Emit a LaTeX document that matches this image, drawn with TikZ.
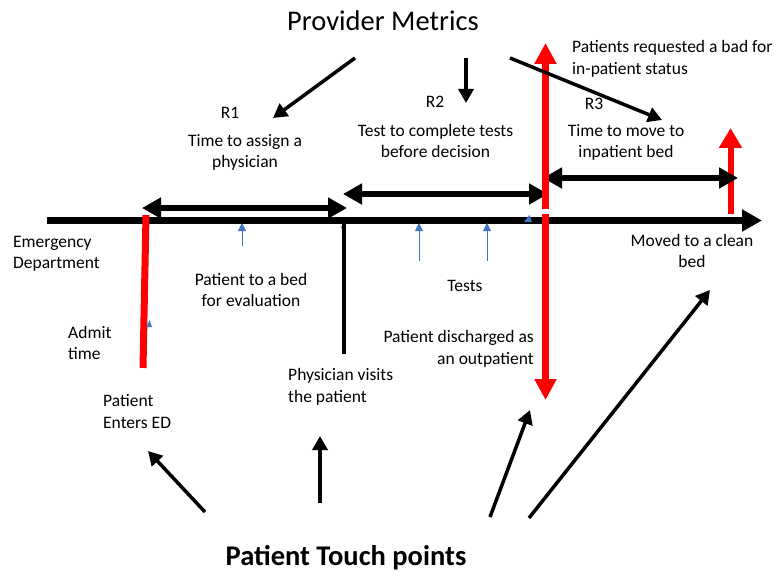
\documentclass[tikz,border=0pt]{standalone}
\usepackage{fontspec}
\setmainfont{Carlito}
\usetikzlibrary{arrows.meta}
\definecolor{tickblue}{RGB}{68,114,196}
\definecolor{mred}{RGB}{255,0,0}

\begin{document}
\begin{tikzpicture}[x=1pt,y=-1pt,
  lbl/.style={font=\fontsize{17.5}{21.5}\selectfont, align=center, inner sep=0pt},
  lbll/.style={lbl, align=left},
  lblr/.style={lbl, align=right},
  heading/.style={inner sep=0pt, anchor=base, font=\fontsize{28.5}{34}\selectfont},
  timeline/.style={line width=7pt, -{Triangle[length=20pt,width=21pt]}},
  span/.style={line width=5.5pt, {Triangle[length=19pt,width=20pt]}-{Triangle[length=19pt,width=20pt]}},
  redup/.style={mred, line width=7pt, -{Triangle[length=21pt,width=21pt]}},
  redbar/.style={mred, line width=7pt},
  blackbar/.style={line width=4.5pt},
  tick/.style={tickblue, line width=1pt, -{Triangle[length=8pt,width=8pt]}},
  pointer/.style={line width=3.5pt, -{Triangle[length=14pt,width=15pt]}}]
\useasboundingbox (0,0) rectangle (775,572);

% headings
\node[heading] (prov) at (383,31) {Provider Metrics};
\node[heading, font=\bfseries\fontsize{28.5}{34}\selectfont] (touch) at (346,565) {Patient Touch points};

% metric labels
\node[lbl] (r1) at (230,113) {R1};
\node[lbl] (r1t) at (245,152.5) {Time to assign a\\physician};
\node[lbl] (r2) at (435,102) {R2};
\node[lbl] (r2t) at (435.5,141) {Test to complete tests\\before decision};
\node[lbl] (r3) at (594,104) {R3};
\node[lbl] (r3t) at (626,142.5) {Time to move to\\inpatient bed};
\node[lbll, anchor=west] (req) at (572,59) {Patients requested a bad for\\in-patient status};

% event labels
\node[lbll, anchor=west] (ed) at (13,254) {Emergency\\Department};
\node[lbl] (bed) at (251,290) {Patient to a bed\\for evaluation};
\node[lbl] (tests) at (465,286) {Tests};
\node[lbl] (clean) at (692,251) {Moved to a clean\\bed};
\node[lbll, anchor=west] (admit) at (68,343) {Admit\\time};
\node[lblr, anchor=east] (disc) at (534,349) {Patient discharged as\\an outpatient};
\node[lbll, anchor=west] (phys) at (288,387) {Physician visits\\the patient};
\node[lbll, anchor=west] (enter) at (103,411.5) {Patient\\Enters ED};

% timeline
\coordinate (t0) at (47,220.5);
\coordinate (t1) at (762,220.5);
\draw[timeline] (t0) -- (t1);

% inpatient move marker (under the R3 span)
\coordinate (mv0) at (730.5,214); \coordinate (mv1) at (730.5,128);
\draw[redup, line width=6pt, -{Triangle[length=20pt,width=22pt]}] (mv0) -- (mv1);

% interval spans
\coordinate (s1a) at (142,208); \coordinate (s1b) at (347,208);
\coordinate (s2a) at (343,194); \coordinate (s2b) at (548,194);
\coordinate (s3a) at (543,178); \coordinate (s3b) at (738,178);
\draw[span] (s1a) -- (s1b);
\draw[span] (s2a) -- (s2b);
\draw[span] (s3a) -- (s3b);

% blue test ticks
\coordinate (b1a) at (242,246); \coordinate (b1b) at (242,223);
\coordinate (b2a) at (419,261); \coordinate (b2b) at (419,223);
\coordinate (b3a) at (487,261); \coordinate (b3b) at (487,223);
\draw[tick] (b1a) -- (b1b);
\draw[tick] (b2a) -- (b2b);
\draw[tick] (b3a) -- (b3b);
\fill[tickblue] (340.5,228) -- (344.5,222) -- (346,228) -- cycle;
\fill[tickblue] (524,222) -- (529.5,215) -- (532,222) -- cycle;

% event bars
\coordinate (adm0) at (146,215); \coordinate (adm1) at (143,368);
\draw[redbar] (adm0) -- (adm1);
\fill[tickblue] (146.5,327) -- (149.5,320) -- (152,327) -- cycle;
\coordinate (ph0) at (344,222); \coordinate (ph1) at (344,354);
\draw[blackbar] (ph0) -- (ph1);

\coordinate (dc0) at (545.5,209); \coordinate (dcup) at (545.5,43);
\coordinate (dc1) at (545.5,214); \coordinate (dcdown) at (545.5,400);
\draw[redup] (dc0) -- (dcup);
\draw[redup] (dc1) -- (dcdown);

% metric pointers
\coordinate (p1a) at (355,58);  \coordinate (p1b) at (273,118);
\coordinate (p2a) at (466,58);  \coordinate (p2b) at (466,103);
\coordinate (p3a) at (510,58);  \coordinate (p3b) at (662,120);
\draw[pointer] (p1a) -- (p1b);
\draw[pointer] (p2a) -- (p2b);
\draw[pointer] (p3a) -- (p3b);

% touch point pointers
\coordinate (q1a) at (205,512); \coordinate (q1b) at (148,451);
\coordinate (q2a) at (320,503); \coordinate (q2b) at (320,436);
\coordinate (q3a) at (490,517); \coordinate (q3b) at (530,410);
\coordinate (q4a) at (529,518); \coordinate (q4b) at (710,290);
\draw[pointer] (q1a) -- (q1b);
\draw[pointer] (q2a) -- (q2b);
\draw[pointer] (q3a) -- (q3b);
\draw[pointer] (q4a) -- (q4b);
\end{tikzpicture}
\end{document}
